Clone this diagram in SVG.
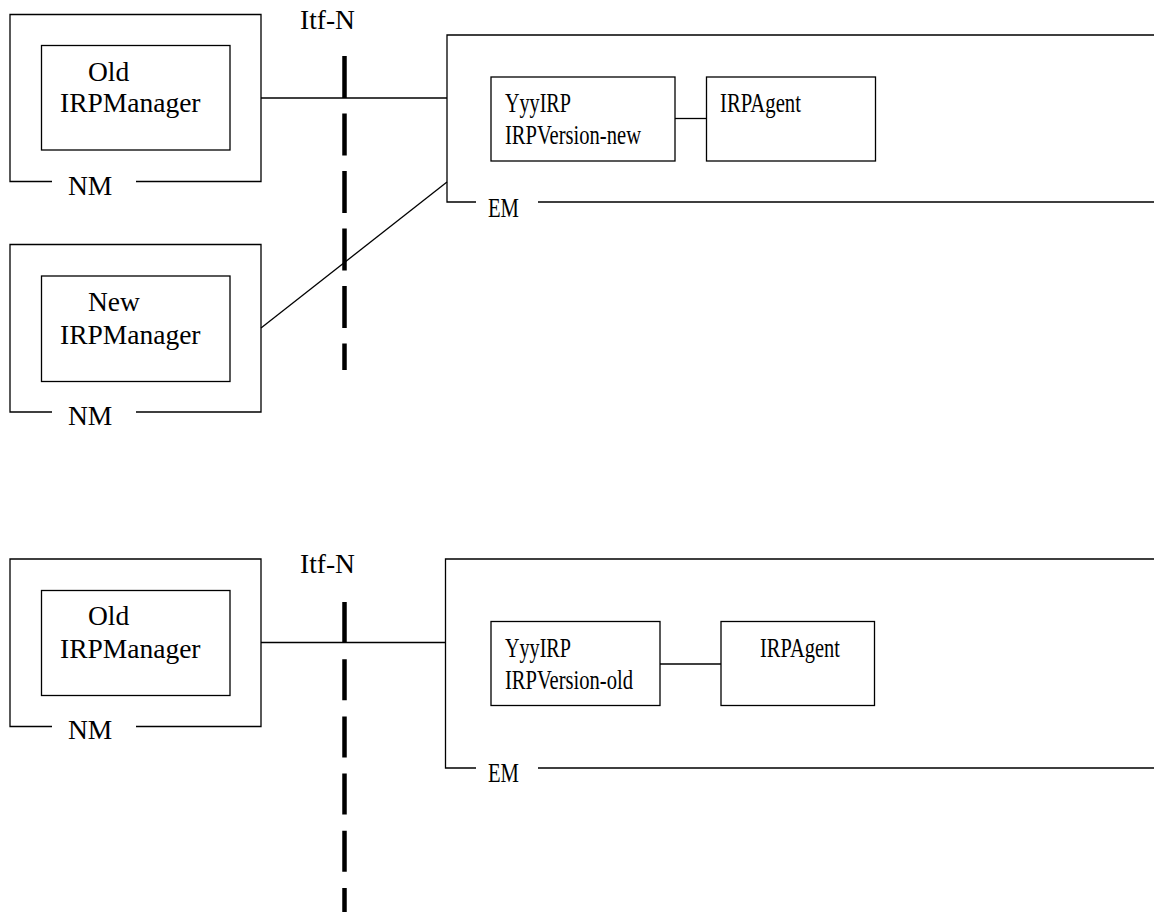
<svg xmlns="http://www.w3.org/2000/svg" width="1154" height="912" viewBox="0 0 1154 912">
<style>
.b{fill:none;stroke:#000;stroke-width:1.3}
.c{fill:none;stroke:#000;stroke-width:1.3}
.d{fill:none;stroke:#000;stroke-width:4.5}
text{font-family:"Liberation Serif","Times New Roman",serif;font-size:27.5px;fill:#000}
</style>
<rect width="1154" height="912" fill="#fff"/>
<g id="itf-top">
<text x="300" y="29">Itf-N</text>
<line class="d" x1="344.5" y1="56" x2="344.5" y2="370" stroke-dasharray="42 15.5"/>
</g>
<g id="itf-bottom">
<text x="300" y="573">Itf-N</text>
<line class="d" x1="344.5" y1="602" x2="344.5" y2="912" stroke-dasharray="41 16.2"/>
</g>
<g id="nm-old-top">
<path class="b" d="M52 181.5H10V14.5H261V181.5H136"/>
<text x="68" y="195">NM</text>
<rect class="b" x="41.5" y="45.5" width="188.5" height="104.5"/>
<text x="88" y="81">Old</text>
<text x="60" y="112">IRPManager</text>
</g>
<g id="nm-new-top">
<path class="b" d="M52 412H10V244.5H261V412H136"/>
<text x="68" y="425">NM</text>
<rect class="b" x="41.5" y="276" width="188.5" height="105.5"/>
<text x="88" y="311">New</text>
<text x="60" y="344">IRPManager</text>
</g>
<g id="em-top">
<path class="b" d="M1154 35H447V202H476M538 202H1154"/>
<text x="488" y="217" textLength="31" lengthAdjust="spacingAndGlyphs">EM</text>
</g>
<g id="yyy-new">
<rect class="b" x="491" y="77" width="184" height="84"/>
<text x="505" y="112" textLength="66" lengthAdjust="spacingAndGlyphs">YyyIRP</text>
<text x="505" y="144" textLength="136" lengthAdjust="spacingAndGlyphs">IRPVersion-new</text>
</g>
<g id="agent-top">
<rect class="b" x="706.5" y="77" width="169" height="84"/>
<text x="720" y="112" textLength="81" lengthAdjust="spacingAndGlyphs">IRPAgent</text>
</g>
<g id="nm-old-bottom">
<path class="b" d="M52 726.5H10V559H261V726.5H136"/>
<text x="68" y="739">NM</text>
<rect class="b" x="41.5" y="590.5" width="188.5" height="105"/>
<text x="88" y="625">Old</text>
<text x="60" y="658">IRPManager</text>
</g>
<g id="em-bottom">
<path class="b" d="M1154 559H445.5V768H476M538 768H1154"/>
<text x="488" y="782" textLength="31" lengthAdjust="spacingAndGlyphs">EM</text>
</g>
<g id="yyy-old">
<rect class="b" x="491" y="621.5" width="169" height="84"/>
<text x="505" y="657" textLength="66" lengthAdjust="spacingAndGlyphs">YyyIRP</text>
<text x="505" y="689" textLength="128" lengthAdjust="spacingAndGlyphs">IRPVersion-old</text>
</g>
<g id="agent-bottom">
<rect class="b" x="721" y="621.5" width="153.5" height="84"/>
<text x="760" y="657" textLength="80" lengthAdjust="spacingAndGlyphs">IRPAgent</text>
</g>
<g id="connectors">
<line class="c" x1="261" y1="98" x2="447" y2="98"/>
<line class="c" x1="261" y1="328" x2="447" y2="182"/>
<line class="c" x1="675" y1="118.5" x2="706.5" y2="118.5"/>
<line class="c" x1="261" y1="642.5" x2="445.5" y2="642.5"/>
<line class="c" x1="660" y1="664" x2="721" y2="664"/>
</g>
</svg>
